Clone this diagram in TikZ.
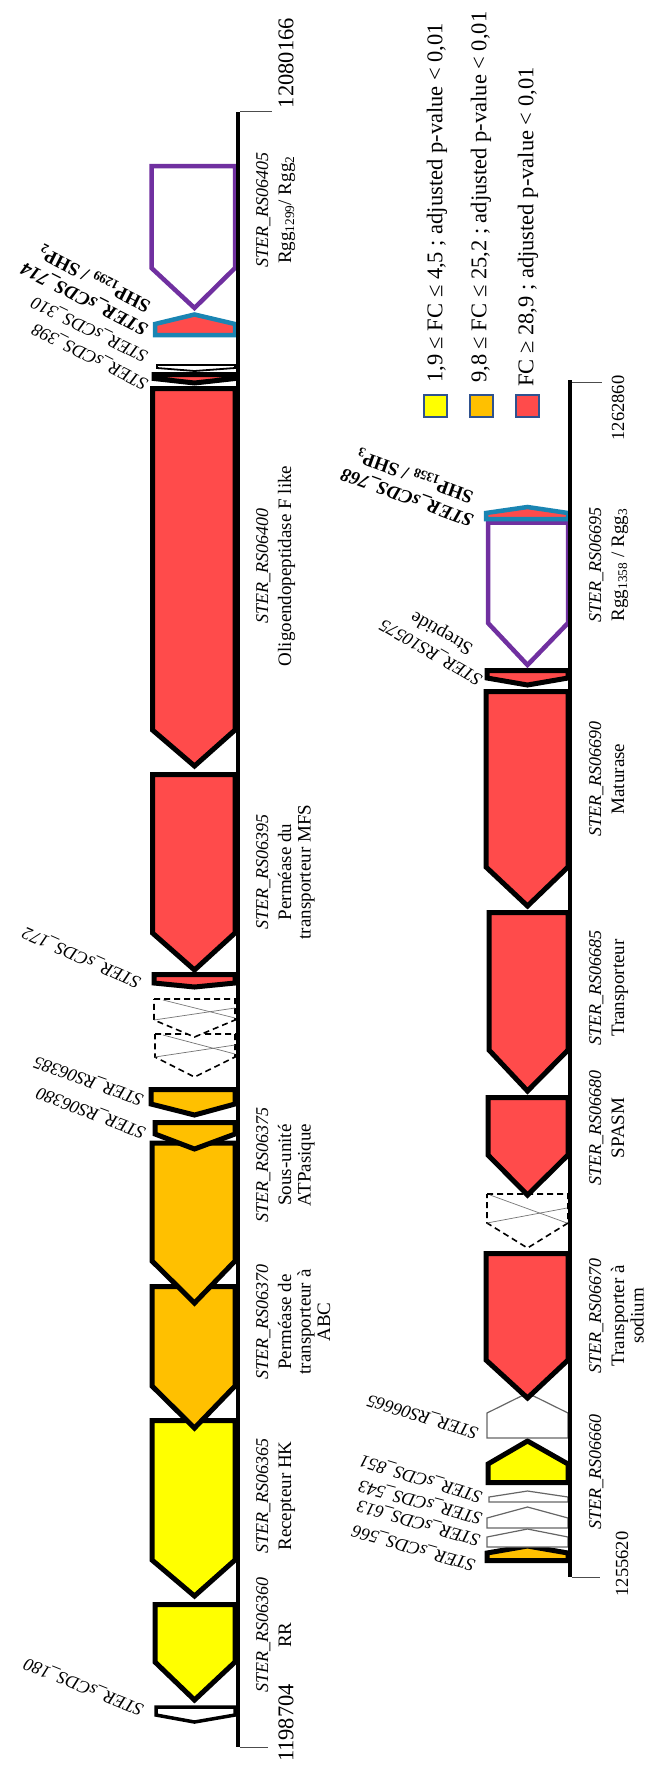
\documentclass[tikz,border=0pt]{standalone}
\usepackage{fontspec}
\setmainfont{Liberation Serif}
\definecolor{gred}{HTML}{FF4B4B}
\definecolor{gorange}{HTML}{FFC000}
\definecolor{gyellow}{HTML}{FFFF00}
\definecolor{gpurple}{HTML}{7030A0}
\definecolor{gblue}{HTML}{1A85B3}
\definecolor{legline}{HTML}{2F528F}
\tikzset{
  gene/.style={line width=5pt, draw=black, line join=miter},
  redg/.style={gene, fill=gred},
  orag/.style={gene, fill=gorange},
  yelg/.style={gene, fill=gyellow},
  rggbox/.style={line width=4.5pt, draw=gpurple, fill=white},
  shpbox/.style={line width=4.5pt, draw=gblue, fill=gred},
  thinblk/.style={line width=1.8pt, draw=black, fill=white},
  whiteg/.style={line width=3.5pt, draw=black, fill=white},
  thingray/.style={line width=1.2pt, draw=black!60, fill=white},
  dashg/.style={line width=1.6pt, draw=black, dash pattern=on 6pt off 4pt, fill=white},
  xline/.style={line width=0.7pt, draw=black!55},
  gaxis/.style={line width=4.5pt, draw=black},
  gtick/.style={line width=1pt, draw=black!70},
  idl/.style={rotate=90, anchor=north, inner sep=0pt, align=center, font=\fontsize{19}{19.5}\selectfont},
  slab/.style={anchor=west, inner sep=0pt, font=\fontsize{18}{20}\selectfont\itshape},
  numlab/.style={rotate=90, inner sep=0pt, font=\fontsize{18.5}{20}\selectfont},
  bignum/.style={numlab, font=\fontsize{22.5}{24}\selectfont},
  legtext/.style={rotate=90, anchor=west, inner sep=0pt, font=\fontsize{22.5}{24}\selectfont},
  legbox/.style={line width=2pt, draw=legline},
}
\newcommand\Lgene[5]{\draw[#1] (#2,-#3) -- (235,-#3) -- (235,-#4) -- (194.5,-#5) -- (#2,-#4) -- cycle;}
\newcommand\Rgene[5]{\draw[#1] (#2,-#3) -- (568,-#3) -- (568,-#4) -- (527.5,-#5) -- (#2,-#4) -- cycle;}
\newcommand\IDf[1]{{\fontsize{18}{19.5}\selectfont\itshape #1}}
\begin{document}
\begin{tikzpicture}[x=1pt,y=1pt]
\useasboundingbox (0,0) rectangle (650,-1767);

% ---------------- left track (bottom to top) ----------------
\Lgene{whiteg}{156}{1707}{1715}{1722}
\Lgene{yelg}{155}{1604.5}{1662}{1700}
\Lgene{yelg}{152}{1420.5}{1560}{1596}
\Lgene{orag}{152}{1286.5}{1386}{1428}
\Lgene{orag}{152}{1143}{1261}{1303}
\Lgene{orag}{155}{1122.5}{1134}{1149}
\Lgene{orag}{151}{1089.5}{1104}{1115}
\Lgene{dashg}{155}{1034}{1057}{1077}
\draw[xline] (163,-1035) -- (235,-1054);
\draw[xline] (155,-1057) -- (235,-1045);
\Lgene{dashg}{154}{999}{1020}{1037}
\draw[xline] (163,-1000) -- (235,-1018);
\draw[xline] (154,-1020) -- (235,-1008);
\Lgene{redg}{154}{974.5}{983}{987}
\Lgene{redg}{152.5}{774.5}{933}{970}
\Lgene{redg}{152.5}{388.5}{730}{766}
\Lgene{redg}{154}{374.5}{378.5}{383}
\Lgene{thinblk}{157}{365}{368}{371}
\Lgene{shpbox}{155}{335}{324}{314.5}
\Lgene{rggbox}{151.5}{166}{268}{308}

\draw[gaxis] (238,-112) -- (238,-1747);
\draw[gtick] (240,-111) -- (272,-111);
\draw[gtick] (240,-1747) -- (268,-1747);

% ---------------- right track (bottom to top) ----------------
\Rgene{orag}{487}{1560.5}{1553}{1546}
\Rgene{thingray}{487}{1547}{1537}{1529}
\Rgene{thingray}{487}{1528}{1518}{1507}
\Rgene{thingray}{489}{1502}{1497}{1491}
\Rgene{yelg}{488}{1482.5}{1464}{1441}
\Rgene{thingray}{487}{1438}{1413}{1393}
\Rgene{redg}{486}{1253.5}{1360}{1398}
\Rgene{dashg}{487}{1194}{1223}{1248}
\draw[xline] (490,-1195) -- (567,-1223);
\draw[xline] (487,-1223) -- (567,-1208);
\Rgene{redg}{488}{1097.5}{1155}{1195}
\Rgene{redg}{489}{912.5}{1050}{1091}
\Rgene{redg}{486}{691.5}{867}{906}
\Rgene{redg}{487}{670.5}{678}{685}
\Rgene{rggbox}{488}{522.5}{623}{665}
\Rgene{shpbox}{486}{519}{513}{507}

\draw[gaxis] (570,-380) -- (570,-1577);
\draw[gtick] (572,-382) -- (602,-382);
\draw[gtick] (572,-1577) -- (600,-1577);

% ---------------- coordinates ----------------
\node[bignum] (n1) at (286,-63) {12080166};
\node[bignum] (n2) at (286,-1723) {1198704};
\node[numlab] (n3) at (618,-408) {1262860};
\node[numlab] (n4) at (622,-1564) {1255620};

% ---------------- gene labels, left track ----------------
\node[idl] (t06405) at (256,-210) {\IDf{STER\_RS06405}\\[3.5pt]Rgg\textsubscript{1299}/ Rgg\textsubscript{2}};
\node[idl] (t06400) at (256,-566) {\IDf{STER\_RS06400}\\[3.5pt]Oligoendopeptidase F like};
\node[idl] (t06395) at (256,-872) {\IDf{STER\_RS06395}\\[3.5pt]Perméase du\\transporteur MFS};
\node[idl] (t06375) at (256,-1165) {\IDf{STER\_RS06375}\\[3.5pt]Sous-unité\\ATPasique};
\node[idl] (t06370) at (256,-1322) {\IDf{STER\_RS06370}\\[3.5pt]Perméase de\\transporteur à\\ABC};
\node[idl] (t06365) at (256,-1496) {\IDf{STER\_RS06365}\\[3.5pt]Recepteur HK};
\node[idl] (t06360) at (256,-1635) {\IDf{STER\_RS06360}\\[3.5pt]RR};

% ---------------- gene labels, right track ----------------
\node[idl] (t06695) at (589,-565) {\IDf{STER\_RS06695}\\[3.5pt]Rgg\textsubscript{1358} / Rgg\textsubscript{3}};
\node[idl] (t06690) at (589,-779) {\IDf{STER\_RS06690}\\[3.5pt]Maturase};
\node[idl] (t06685) at (589,-988) {\IDf{STER\_RS06685}\\[3.5pt]Transporteur};
\node[idl] (t06680) at (589,-1128) {\IDf{STER\_RS06680}\\[3.5pt]SPASM};
\node[idl] (t06670) at (589,-1316) {\IDf{STER\_RS06670}\\[3.5pt]Transporter à\\sodium};
\node[idl] (t06660) at (589,-1472) {\IDf{STER\_RS06660}};

% ---------------- slanted labels, left track ----------------
\node[slab, rotate=153, align=center, font=\fontsize{19}{22}\selectfont\bfseries] (s714) at (152,-320)
  {{\itshape STER\_sCDS\_714}\\SHP\textsubscript{1299} / SHP\textsubscript{2}};
\node[slab, rotate=154] (s310) at (147,-357) {STER\_sCDS\_310};
\node[slab, rotate=153] (s398) at (147,-385) {STER\_sCDS\_398};
\node[slab, rotate=156] (s172) at (140,-983) {STER\_sCDS\_172};
\node[slab, rotate=160] (s385) at (143,-1100) {STER\_RS06385};
\node[slab, rotate=159] (s380) at (145,-1133) {STER\_RS06380};
\node[slab, rotate=158] (s180) at (143,-1710) {STER\_sCDS\_180};

% ---------------- slanted labels, right track ----------------
\node[slab, rotate=160, align=center, font=\fontsize{19}{22}\selectfont\bfseries] (s768) at (477,-510)
  {{\itshape STER\_sCDS\_768}\\SHP\textsubscript{1358} / SHP\textsubscript{3}};
\node[slab, rotate=150, align=center, font=\fontsize{19}{22}\selectfont] (s10575) at (487,-670)
  {\IDf{STER\_RS10575}\\Streptide};
\node[slab, rotate=163] (s665) at (478,-1433) {STER\_RS06665};
\node[slab, rotate=163] (s851) at (482,-1497) {STER\_sCDS\_851};
\node[slab, rotate=165] (s543) at (482,-1518) {STER\_sCDS\_543};
\node[slab, rotate=164] (s613) at (480,-1540) {STER\_sCDS\_613};
\node[slab, rotate=164] (s566) at (475,-1565) {STER\_sCDS\_566};

% ---------------- legend ----------------
\draw[legbox, fill=gyellow] (423.5,-395) rectangle (446.5,-417);
\draw[legbox, fill=gorange] (469.5,-395) rectangle (492.5,-417);
\draw[legbox, fill=gred] (516,-395) rectangle (539,-417);
\node[legtext] (lg1) at (437,-383) {1,9 ≤ FC ≤ 4,5 ; adjusted p-value < 0,01};
\node[legtext] (lg2) at (481,-383) {9,8 ≤ FC ≤ 25,2 ; adjusted p-value < 0,01};
\node[legtext] (lg3) at (528,-387) {FC ≥ 28,9 ; adjusted p-value < 0,01};
\end{tikzpicture}
\end{document}
